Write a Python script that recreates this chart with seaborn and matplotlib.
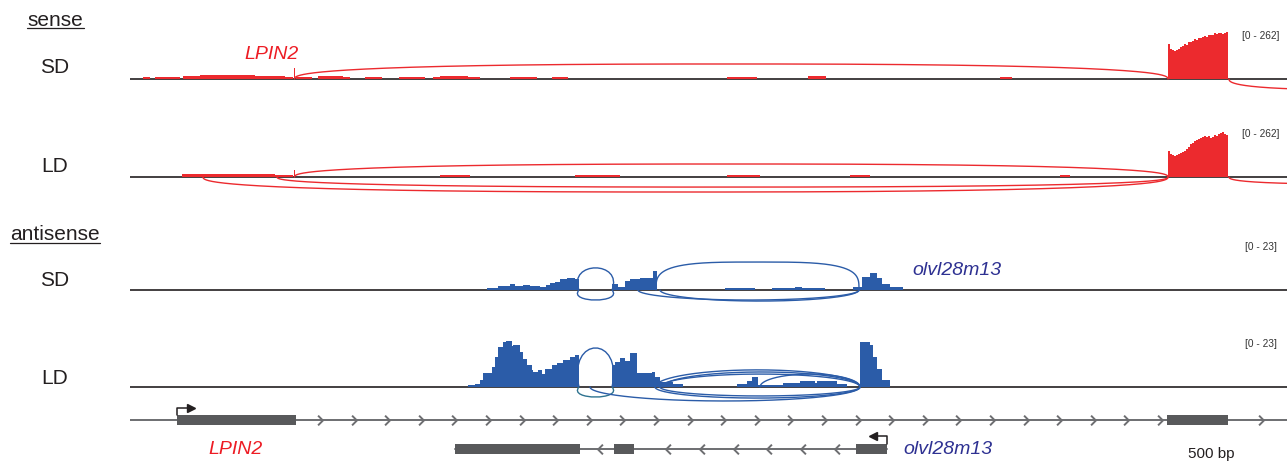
import numpy as np
import pandas as pd
import matplotlib
matplotlib.use("Agg")
import matplotlib.pyplot as plt
from matplotlib.path import Path
from matplotlib.patches import PathPatch, Rectangle
from matplotlib.lines import Line2D
import seaborn as sns

# ------------------------------------------------------------------ data
WINDOW = (0, 11570)          # bp, relative to the window start

# sense strand coverage (LPIN2), SD and LD: scattered low-coverage segments
sd_sense_start = [130, 250, 530, 700, 1250, 1350, 1550, 1640, 1660, 1880, 2130, 2350, 2690,
                  3030, 3100, 3380, 3800, 4220, 5970, 6780, 8700]
sd_sense_end = [200, 500, 700, 1250, 1350, 1550, 1630, 1650, 1820, 2130, 2200, 2520, 2950,
                3100, 3380, 3500, 4070, 4380, 6270, 6960, 8820]
sd_sense_depth = [12, 13, 17, 23, 19, 14, 12, 58, 12, 19, 12, 12, 12,
                  12, 16, 12, 13, 12, 13, 14, 11]

ld_sense_start = [520, 700, 1150, 1450, 1640, 3100, 4450, 5970, 7200, 9300]
ld_sense_end = [700, 1150, 1450, 1630, 1650, 3400, 4900, 6300, 7400, 9400]
ld_sense_depth = [14, 19, 16, 12, 38, 11, 11, 11, 12, 11]

# second LPIN2 exon coverage, 20-bp bins starting at exon2_cov_start
exon2_cov_start = 10380
exon2_cov_bin = 20
sd_exon2_depth = [191, 164, 158, 153, 158, 164, 175, 180, 191, 188, 202, 202, 207, 218, 213,
                  224, 224, 229, 235, 229, 240, 240, 240, 251, 246, 251, 251, 246, 251, 257]
ld_exon2_depth = [142, 126, 120, 117, 120, 126, 131, 136, 142, 153, 164, 180, 186, 196, 202,
                  207, 213, 218, 224, 218, 224, 213, 218, 229, 224, 235, 240, 246, 235, 229]

# antisense strand coverage (olvl28m13), SD and LD
sd_anti_start = [3570, 3680, 3800, 3850, 3930, 4000, 4100, 4160, 4200, 4250, 4300, 4370, 4450,
                 4820, 4880, 4950, 5000, 5100, 5230, 5950, 6420, 6650, 6720,
                 7230, 7320, 7400, 7470, 7520, 7600]
sd_anti_end = [3680, 3800, 3850, 3930, 4000, 4100, 4160, 4200, 4250, 4300, 4370, 4450, 4490,
               4880, 4950, 5000, 5100, 5230, 5270, 6250, 6650, 6720, 6950,
               7320, 7400, 7470, 7520, 7600, 7730]
sd_anti_depth = [1.0, 1.9, 2.9, 1.9, 2.4, 1.9, 1.4, 2.4, 3.4, 3.8, 5.3, 5.8, 5.3,
                 2.9, 1.4, 4.3, 5.3, 5.8, 9.1, 1.0, 1.0, 1.6, 1.0,
                 1.4, 6.2, 8.2, 5.8, 2.9, 1.2]

ld_anti_start = [3380, 3450, 3500, 3530, 3620, 3650, 3680, 3730, 3760, 3820, 3830, 3900, 3930,
                 3970, 4020, 4030, 4080, 4120, 4150, 4220, 4270, 4330, 4400, 4450,
                 4820, 4850, 4900, 4950, 5000, 5070, 5220, 5250, 5300, 5430,
                 6070, 6170, 6220, 6280, 6530, 6700, 6850, 6870, 7070,
                 7300, 7400, 7430, 7470, 7520]
ld_anti_end = [3450, 3500, 3530, 3620, 3650, 3680, 3730, 3760, 3820, 3830, 3900, 3930, 3970,
               4020, 4030, 4080, 4120, 4150, 4220, 4270, 4330, 4400, 4450, 4490,
               4850, 4900, 4950, 5000, 5070, 5220, 5250, 5300, 5430, 5530,
               6170, 6220, 6280, 6530, 6700, 6850, 6870, 7070, 7170,
               7400, 7430, 7470, 7520, 7600]
ld_anti_depth = [1.0, 1.4, 3.4, 6.7, 9.6, 14.4, 19.2, 21.6, 22.1, 19.7, 20.2, 16.8, 13.4,
                 10.6, 8.2, 7.2, 8.2, 6.2, 8.6, 10.6, 11.5, 13.0, 14.4, 15.4,
                 10.6, 12.0, 13.9, 12.5, 16.3, 6.7, 7.2, 4.8, 2.4, 1.2,
                 1.4, 2.9, 4.8, 1.0, 1.9, 2.9, 1.9, 2.9, 1.4,
                 21.6, 20.2, 14.4, 8.6, 3.4]

# splice junctions (start, end, arc height in track units; negative = drawn below)
sd_sense_jx_start = [1645, 10990]
sd_sense_jx_end = [10380, 13500]
sd_sense_jx_height = [82, -58]

ld_sense_jx_start = [1645, 730, 1470, 10990]
ld_sense_jx_end = [10380, 10380, 10380, 13500]
ld_sense_jx_height = [71, -82, -55, -38]

sd_anti_jx_start = [4490, 5260, 4490, 5080, 5300]
sd_anti_jx_end = [4820, 7290, 4820, 7290, 7290]
sd_anti_jx_height = [10.6, 13.4, -4.8, -4.8, -5.3]

ld_anti_jx_start = [4490, 5250, 5300, 5330, 6300, 4490, 4600, 5250, 5300]
ld_anti_jx_end = [4820, 7300, 7300, 7300, 7300, 4820, 7300, 7300, 7300]
ld_anti_jx_height = [18.7, 8.2, 6.2, 7.2, 6.2, -4.8, -6.7, -5.3, -4.3]

sense_range_max = 262
anti_range_max = 23

# gene models
lpin2_exon_start = [470, 10370]
lpin2_exon_end = [1660, 10980]
lpin2_tss = 470
olvl_exon_start = [3250, 4840, 7260]
olvl_exon_end = [4500, 5040, 7570]
olvl_tss = 7570
olvl_chevrons = [4700, 5380, 5720, 6060, 6390, 6730, 7070]

track_labels = ["SD", "LD", "SD", "LD"]
group_labels = ["sense", "antisense"]

# ------------------------------------------------------------------ style
sns.set_style("white")
plt.rcParams["font.family"] = ["Liberation Sans", "DejaVu Sans"]

RED = "#EC2A2E"
RED_TXT = "#ED1C24"
BLUE = "#2B5CA8"
BLUE_TXT = "#2E3192"
TEAL = "#2E7390"
DARK = "#231F20"
GENE = "#58595B"
LINE = "#6D6E71"

W, H = 1287, 465
fig = plt.figure(figsize=(W / 100, H / 100), dpi=100)
fig.patch.set_facecolor("white")


def add_ax(x0, y0, x1, y1):
    ax = fig.add_axes([x0 / W, 1 - y1 / H, (x1 - x0) / W, (y1 - y0) / H])
    ax.set_facecolor("none")
    return ax


def fig_text(x, y, s, **kw):
    fig.text(x / W, 1 - y / H, s, **kw)


def binned_segments(start, width, depth):
    s = [start + i * width for i in range(len(depth))]
    e = [v + width for v in s]
    return s, e, list(depth)


def coverage_bins(starts, ends, depth):
    edges = np.unique(np.concatenate([starts, ends])).astype(float)
    mids = (edges[:-1] + edges[1:]) / 2
    w = np.zeros(len(mids))
    for s, e, d in zip(starts, ends, depth):
        w[(mids > s) & (mids < e)] = d
    return edges, mids, w


def draw_arc(ax, x0, x1, h, color, n):
    span = x1 - x0
    if span < 600:
        # short junction: rounded loop bulging outwards
        b = 0.35 * span
        verts = [(x0, 0), (x0 - b, 4 / 3 * h), (x1 + b, 4 / 3 * h), (x1, 0)]
        path = Path(verts, [Path.MOVETO, Path.CURVE4, Path.CURVE4, Path.CURVE4])
        ax.add_patch(PathPatch(path, fill=False, edgecolor=color, lw=1.0, zorder=4))
    else:
        th = np.linspace(0, np.pi, 600)
        u = -np.cos(th)
        y = h * (1 - np.abs(u) ** n) ** (1 / n)
        x = (x0 + x1) / 2 + u * span / 2
        ax.plot(x, y, color=color, lw=1.0, zorder=4)


ABOVE, BELOW = 48, 26


def track(baseline, vmax, starts, ends, depth, jx_s, jx_e, jx_h, color, range_txt,
          arc_n=(2.5, 2.5), below_colors=None):
    ax = add_ax(130, baseline - ABOVE, W, baseline + BELOW)
    ax.axhline(0, color=DARK, lw=1.2, zorder=0.5)
    edges, mids, w = coverage_bins(starts, ends, depth)
    df = pd.DataFrame({"pos": mids, "depth": w})
    sns.histplot(data=df, x="pos", weights="depth", bins=list(edges), element="step",
                 fill=True, color=color, alpha=1.0, linewidth=0, ax=ax, zorder=2)
    for i, (s, e, h) in enumerate(zip(jx_s, jx_e, jx_h)):
        c = color
        if below_colors is not None and i in below_colors:
            c = below_colors[i]
        draw_arc(ax, s, e, h, c, arc_n[0] if h > 0 else arc_n[1])
    ax.set_xlim(WINDOW)
    ax.set_ylim(-vmax * BELOW / ABOVE, vmax)
    ax.axis("off")
    fig_text(1261, baseline - ABOVE + 5, range_txt, ha="center", va="center",
             fontsize=7.3, color="#333333")
    return ax


es, ee, ed = binned_segments(exon2_cov_start, exon2_cov_bin, sd_exon2_depth)
track(79, sense_range_max, sd_sense_start + es, sd_sense_end + ee, sd_sense_depth + ed,
      sd_sense_jx_start, sd_sense_jx_end, sd_sense_jx_height, RED, f"[0 - {sense_range_max}]")
es, ee, ed = binned_segments(exon2_cov_start, exon2_cov_bin, ld_exon2_depth)
track(177, sense_range_max, ld_sense_start + es, ld_sense_end + ee, ld_sense_depth + ed,
      ld_sense_jx_start, ld_sense_jx_end, ld_sense_jx_height, RED, f"[0 - {sense_range_max}]")
track(290, anti_range_max, sd_anti_start, sd_anti_end, sd_anti_depth,
      sd_anti_jx_start, sd_anti_jx_end, sd_anti_jx_height, BLUE, f"[0 - {anti_range_max}]",
      arc_n=(3.5, 2.0))
track(387, anti_range_max, ld_anti_start, ld_anti_end, ld_anti_depth,
      ld_anti_jx_start, ld_anti_jx_end, ld_anti_jx_height, BLUE, f"[0 - {anti_range_max}]",
      arc_n=(2.0, 2.0), below_colors={5: TEAL})

# ------------------------------------------------------------------ gene track
gax = add_ax(130, 400, W, 465)
gax.set_xlim(WINDOW)
gax.set_ylim(-1.55, 0.69)
gax.axis("off")
half = 0.17

# LPIN2 (row 0, + strand)
gax.plot(WINDOW, [0, 0], color=LINE, lw=1.4, zorder=1, solid_capstyle="butt")
for s, e in zip(lpin2_exon_start, lpin2_exon_end):
    gax.add_patch(Rectangle((s, -half), e - s, 2 * half, color=GENE, lw=0, zorder=2))
chev_r = Path([(-0.5, 1), (0.5, 0), (-0.5, -1)], [Path.MOVETO, Path.LINETO, Path.LINETO])
chev_l = Path([(0.5, 1), (-0.5, 0), (0.5, -1)], [Path.MOVETO, Path.LINETO, Path.LINETO])
lp_chev = np.arange(1900, WINDOW[1], 336)
in_exon = np.zeros(len(lp_chev), bool)
for s, e in zip(lpin2_exon_start, lpin2_exon_end):
    in_exon |= (lp_chev > s - 20) & (lp_chev < e + 20)
lp_chev = lp_chev[~in_exon]
gax.plot(lp_chev, np.zeros(len(lp_chev)), linestyle="none", marker=chev_r, markersize=7,
         markerfacecolor="none", markeredgecolor=LINE, markeredgewidth=1.4, zorder=3)
gax.plot([lpin2_tss, lpin2_tss, lpin2_tss + 140], [half, 0.40, 0.40], color=DARK, lw=1.1,
         zorder=3)
gax.plot([lpin2_tss + 140], [0.40], marker=">", markersize=6, color=DARK, zorder=3)

# olvl28m13 (row -1, - strand)
gax.plot([olvl_exon_start[0], olvl_exon_end[-1]], [-1, -1], color=LINE, lw=1.4, zorder=1)
for s, e in zip(olvl_exon_start, olvl_exon_end):
    gax.add_patch(Rectangle((s, -1 - half), e - s, 2 * half, color=GENE, lw=0, zorder=2))
gax.plot(olvl_chevrons, -np.ones(len(olvl_chevrons)), linestyle="none", marker=chev_l,
         markersize=7, markerfacecolor="none", markeredgecolor=LINE, markeredgewidth=1.4,
         zorder=3)
gax.plot([olvl_tss, olvl_tss, olvl_tss - 140], [-1 + half, -0.55, -0.55], color=DARK,
         lw=1.1, zorder=3)
gax.plot([olvl_tss - 140], [-0.55], marker="<", markersize=6, color=DARK, zorder=3)

# ------------------------------------------------------------------ labels
fig_text(27, 26, group_labels[0], ha="left", va="baseline", fontsize=15, color=DARK)
fig.add_artist(Line2D([27 / W, 84 / W], [1 - 28 / H, 1 - 28 / H], color=DARK, lw=0.9))
fig_text(10, 240, group_labels[1], ha="left", va="baseline", fontsize=15, color=DARK)
fig.add_artist(Line2D([10 / W, 100 / W], [1 - 243 / H, 1 - 243 / H], color=DARK, lw=0.9))

for lab, yb in zip(track_labels, [73, 172, 286, 384]):
    fig_text(55, yb, lab, ha="center", va="baseline", fontsize=15, color=DARK)

fig_text(272, 59, "LPIN2", ha="center", va="baseline", fontsize=14, color=RED_TXT,
         style="italic")
fig_text(957, 275, "olvl28m13", ha="center", va="baseline", fontsize=14, color=BLUE_TXT,
         style="italic")
fig_text(236, 454, "LPIN2", ha="center", va="baseline", fontsize=14, color=RED_TXT,
         style="italic")
fig_text(948, 454, "olvl28m13", ha="center", va="baseline", fontsize=14, color=BLUE_TXT,
         style="italic")
fig_text(1211, 458, "500 bp", ha="center", va="baseline", fontsize=11, color=DARK)

fig.savefig("out.png", dpi=100, facecolor="white")
